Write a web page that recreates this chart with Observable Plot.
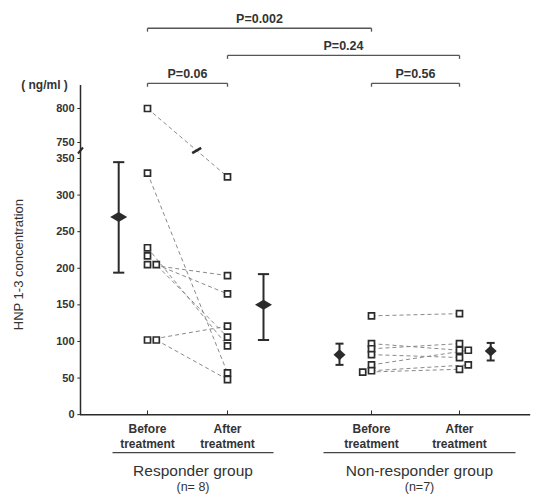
<!DOCTYPE html>
<html><head><meta charset="utf-8">
<script src="https://cdn.jsdelivr.net/npm/d3@7"></script>
<script src="https://cdn.jsdelivr.net/npm/@observablehq/plot@0.6"></script>
<style>body{margin:0;background:#fff}</style>
</head><body><div id="chart"></div>
<script>
// ---- data ----
const categories = ["Before\ntreatment", "After\ntreatment", "Before\ntreatment", "After\ntreatment"];
const groupNames = ["Responder group", "Non-responder group"];
const groupSizes = ["(n= 8)", "(n=7)"];
const respBefore = [800, 330, 228, 217, 205, 205, 102, 102];
const respAfter  = [325, 57, 94, 106, 190, 165, 121, 48];
const respBeforeShift = [0, 0, 0, 0, 0, 1, 0, 1];
const respAfterShift  = [0, 0, 0, 0, 0, 0, 0, 0];
const nonBefore = [135, 97, 90, 82, 68, 60, 58];
const nonAfter  = [138, 88, 97, 78, 88, 68, 62];
const nonBeforeShift = [0, 0, 0, 0, 0, 0, -1];
const nonAfterShift  = [0, 0, 0, 0, 1, 1, 0];
const means  = [270, 150, 82, 87];
const sdLow  = [194, 102, 68, 74];
const sdHigh = [345, 192, 97, 98];
const pLabels = ["P=0.002", "P=0.24", "P=0.06", "P=0.56"];
const pFrom = [0, 1, 0, 2];
const pTo   = [2, 3, 1, 3];
const yTicks = [0, 50, 100, 150, 200, 250, 300, 350, 750, 800];
const yBreak = 550;

// ---- layout ----
const catX = [1, 2, 3.8, 4.9];
const meanOffset = [-0.36, 0.45, -0.4, 0.39];
const capHalf = [0.07, 0.07, 0.05, 0.05];
const shiftUnit = 0.11;
const axisX = 0.1625;
const xDomain = [-0.8375, 5.9];
const yDomain = [-115, 350, 750, 950];
const yRange = [498.3, 158, 142, 6];
const bracketLevel = [918, 878, 837, 837];
const underline = [[0.5625, 2.575], [3.2, 5.6]];
const font = "'Liberation Sans', Arial, sans-serif";
const ink = "#2b2b2b";

// points
const pts = [];
respBefore.forEach((v, i) => pts.push({x: catX[0] + respBeforeShift[i] * shiftUnit, y: v}));
respAfter.forEach((v, i) => pts.push({x: catX[1] + respAfterShift[i] * shiftUnit, y: v}));
nonBefore.forEach((v, i) => pts.push({x: catX[2] + nonBeforeShift[i] * shiftUnit, y: v}));
nonAfter.forEach((v, i) => pts.push({x: catX[3] + nonAfterShift[i] * shiftUnit, y: v}));

const pairs = [];
respBefore.forEach((v, i) => pairs.push({x1: catX[0] + respBeforeShift[i] * shiftUnit, y1: v, x2: catX[1] + respAfterShift[i] * shiftUnit, y2: respAfter[i]}));
nonBefore.forEach((v, i) => pairs.push({x1: catX[2] + nonBeforeShift[i] * shiftUnit, y1: v, x2: catX[3] + nonAfterShift[i] * shiftUnit, y2: nonAfter[i]}));

const stats = means.map((m, i) => ({x: catX[i] + meanOffset[i], m, lo: sdLow[i], hi: sdHigh[i], c: capHalf[i], big: i < 2}));

// break marker on the line crossing the axis break
const yPix = d3.scaleLinear().domain(yDomain).range(yRange);
const crossing = pairs.filter(p => p.y1 > yBreak && p.y2 < yBreak).map(p => {
  const t = (yPix(yBreak) - yPix(p.y1)) / (yPix(p.y2) - yPix(p.y1));
  return {x: p.x1 + t * (p.x2 - p.x1), y: yBreak};
});

const brackets = pLabels.map((t, i) => ({t, a: catX[pFrom[i]], b: catX[pTo[i]], y: bracketLevel[i]}));

const slash = (w, h) => ({draw(c) { c.moveTo(-w, h); c.lineTo(w, -h); }});
const diamond = (w, h) => ({draw(c) { c.moveTo(-w, 0); c.lineTo(0, -h); c.lineTo(w, 0); c.lineTo(0, h); c.closePath(); }});

const plot = Plot.plot({
  width: 539, height: 499,
  marginLeft: 0, marginRight: 0, marginTop: 0, marginBottom: 0,
  style: {fontFamily: font, background: "#fff", color: ink},
  x: {type: "linear", domain: xDomain, range: [0, 539], axis: null},
  y: {type: "linear", domain: yDomain, range: yRange, axis: null},
  marks: [
    // axes
    Plot.ruleX([axisX], {y1: 0, y2: 834, stroke: ink, strokeWidth: 1.5}),
    Plot.ruleY([0], {x1: axisX, x2: 5.79, stroke: ink, strokeWidth: 1.5}),
    Plot.link(yTicks, {x1: axisX - 0.04, x2: axisX, y1: d => d, y2: d => d, stroke: ink}),
    Plot.text(yTicks, {x: axisX, y: d => d, text: d => String(d), textAnchor: "end", dx: -6, fontSize: 11, fontWeight: "bold", fill: "#333"}),
    Plot.dot([{x: axisX, y: yBreak}], {x: "x", y: "y", symbol: slash(2.5, 3), stroke: ink, strokeWidth: 2}),
    Plot.text(["( ng/ml )"], {x: axisX, y: 834, dx: -36, text: d => d, fontSize: 12, fontWeight: "bold", fill: "#333"}),
    Plot.text(["HNP 1-3 concentration"], {x: axisX, y: 205, dx: -62, text: d => d, rotate: -90, fontSize: 13, fill: "#333"}),
    Plot.ruleX(catX, {y1: -1, y2: 5, stroke: ink}),
    // category labels
    Plot.text(categories, {x: (d, i) => catX[i], y: -29, text: d => d, fontSize: 12, fontWeight: "bold", lineHeight: 1.25, fill: "#333"}),
    Plot.link(underline, {x1: d => d[0], x2: d => d[1], y1: -52, y2: -52, stroke: "#444", strokeWidth: 1.2}),
    Plot.text(groupNames, {x: (d, i) => (underline[i][0] + underline[i][1]) / 2, y: -76.5, text: d => d, fontSize: 15.5, fill: "#333"}),
    Plot.text(groupSizes, {x: (d, i) => (underline[i][0] + underline[i][1]) / 2, y: -99.5, text: d => d, fontSize: 12.5, fill: "#333"}),
    // paired dashed lines
    Plot.link(pairs, {x1: "x1", y1: "y1", x2: "x2", y2: "y2", stroke: "#8a8a8a", strokeWidth: 1, strokeDasharray: "4,3"}),
    Plot.dot(crossing, {x: "x", y: "y", symbol: slash(4.5, 2.6), stroke: ink, strokeWidth: 2.6}),
    // individual squares
    Plot.dot(pts, {x: "x", y: "y", symbol: "square", r: 3.4, fill: "#fff", stroke: ink, strokeWidth: 1.7}),
    // mean ± SD
    Plot.ruleX(stats, {x: "x", y1: "lo", y2: "hi", stroke: ink, strokeWidth: 2}),
    Plot.link(stats, {x1: d => d.x - d.c, x2: d => d.x + d.c, y1: "lo", y2: "lo", stroke: ink, strokeWidth: 2}),
    Plot.link(stats, {x1: d => d.x - d.c, x2: d => d.x + d.c, y1: "hi", y2: "hi", stroke: ink, strokeWidth: 2}),
    Plot.dot(stats.filter(d => d.big), {x: "x", y: "m", symbol: diamond(8.5, 5), fill: ink, stroke: "none"}),
    Plot.dot(stats.filter(d => !d.big), {x: "x", y: "m", symbol: diamond(6, 5.5), fill: ink, stroke: "none"}),
    // significance brackets
    Plot.link(brackets, {x1: "a", x2: "b", y1: "y", y2: "y", stroke: "#555", strokeWidth: 1.3}),
    Plot.link(brackets, {x1: "a", x2: "a", y1: "y", y2: d => d.y - 5, stroke: "#555", strokeWidth: 1.3}),
    Plot.link(brackets, {x1: "b", x2: "b", y1: "y", y2: d => d.y - 5, stroke: "#555", strokeWidth: 1.3}),
    Plot.text(brackets, {x: d => (d.a + d.b) / 2, y: "y", text: "t", dy: -9, fontSize: 12.5, fontWeight: "bold", fill: "#333"})
  ]
});
document.getElementById("chart").appendChild(plot);
</script>
</body></html>
